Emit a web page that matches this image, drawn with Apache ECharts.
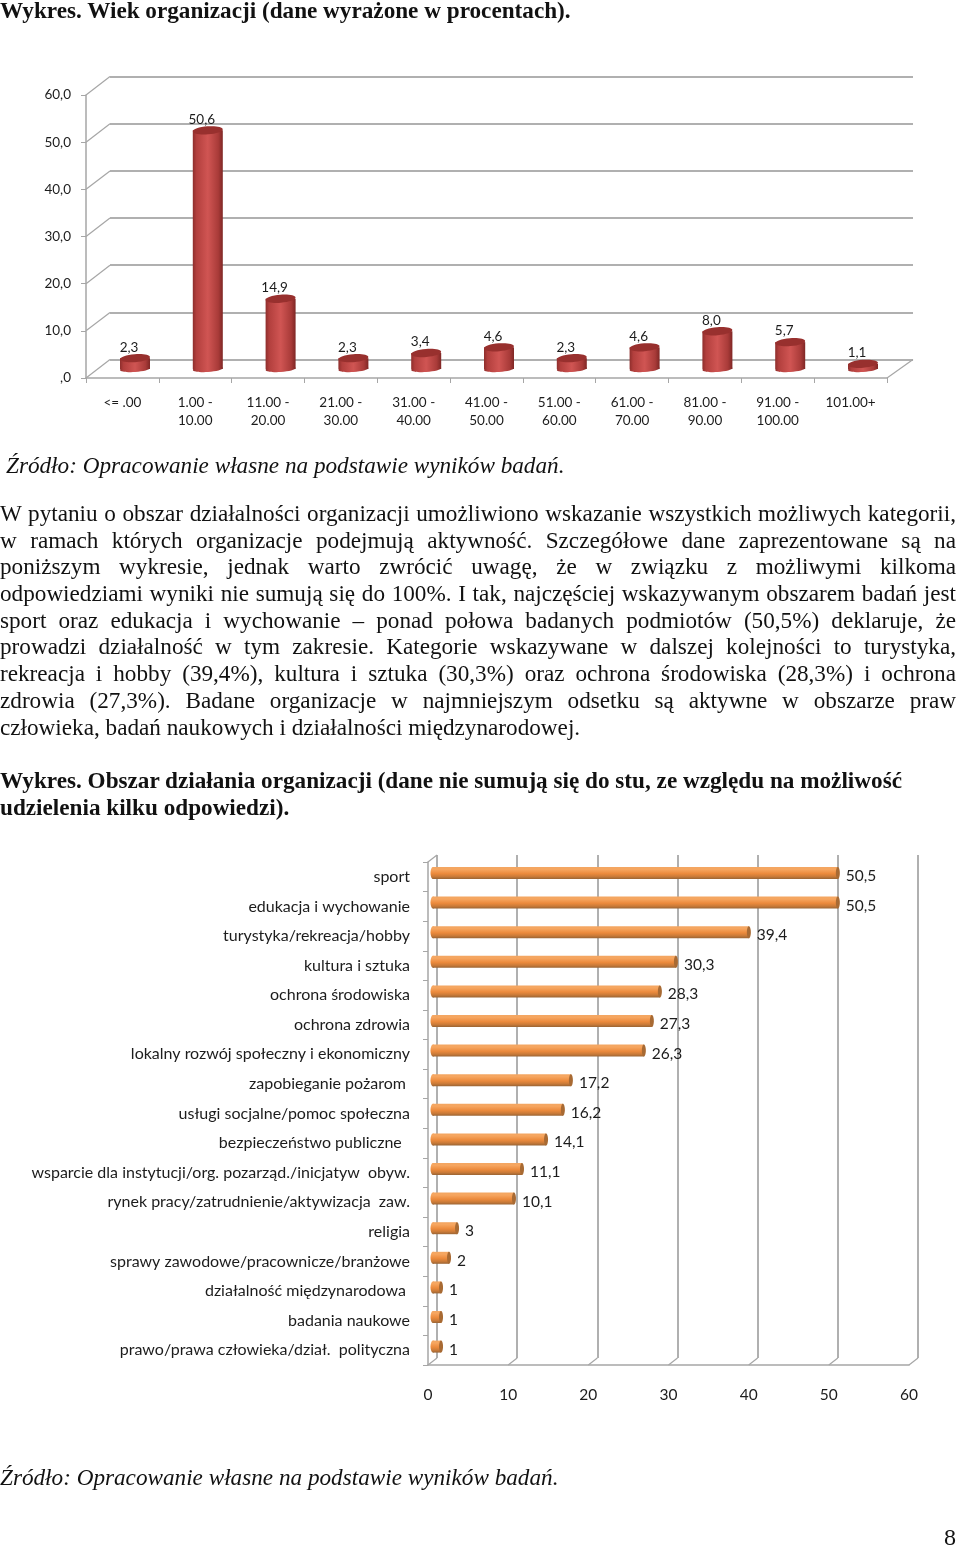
<!DOCTYPE html>
<html lang="pl">
<head>
<meta charset="utf-8">
<title>Wykres</title>
<script src="https://cdn.jsdelivr.net/npm/echarts@6/dist/echarts.min.js"></script>
<style>
html,body{margin:0;padding:0;background:#fff;}
#chart{position:absolute;left:0;top:0;width:960px;height:1547px;}
.t{position:absolute;white-space:nowrap;font-family:"Liberation Serif",serif;font-size:23.2px;line-height:26px;height:26px;color:#111;}
.j{left:0;width:956px;white-space:normal;text-align:justify;text-align-last:justify;}
.b{font-weight:bold;}
.i{font-style:italic;}
</style>
</head>
<body>
<div id="chart"></div>
<div id="text"></div>
<script>
const ageCategories = ['<= .00','1.00 -\n10.00','11.00 -\n20.00','21.00 -\n30.00','31.00 -\n40.00','41.00 -\n50.00','51.00 -\n60.00','61.00 -\n70.00','81.00 -\n90.00','91.00 -\n100.00','101.00+'];
const ageValues = [2.3,50.6,14.9,2.3,3.4,4.6,2.3,4.6,8.0,5.7,1.1];
const ageTicks = [0,10,20,30,40,50,60];

const areaCategories = ['sport','edukacja i wychowanie','turystyka/rekreacja/hobby','kultura i sztuka','ochrona środowiska','ochrona zdrowia','lokalny rozwój społeczny i ekonomiczny','zapobieganie pożarom ','usługi socjalne/pomoc społeczna','bezpieczeństwo publiczne  ','wsparcie dla instytucji/org. pozarząd./inicjatyw  obyw.','rynek pracy/zatrudnienie/aktywizacja  zaw.','religia','sprawy zawodowe/pracownicze/branżowe','działalność międzynarodowa ','badania naukowe','prawo/prawa człowieka/dział.  polityczna'];
const areaValues = [50.5,50.5,39.4,30.3,28.3,27.3,26.3,17.2,16.2,14.1,11.1,10.1,3,2,1,1,1];
const areaTicks = [0,10,20,30,40,50,60];

const proseLines = [
 ['Wykres. Wiek organizacji (dane wyrażone w procentach).',0,-3,'b'],
 ['Źródło: Opracowanie własne na podstawie wyników badań.',6,452,'i'],
 ['W pytaniu o obszar działalności organizacji umożliwiono wskazanie wszystkich możliwych kategorii,',0,500,'j'],
 ['w ramach których organizacje podejmują aktywność. Szczegółowe dane zaprezentowane są na',0,527,'j'],
 ['poniższym wykresie, jednak warto zwrócić uwagę, że w związku z możliwymi kilkoma',0,553,'j'],
 ['odpowiedziami wyniki nie sumują się do 100%. I tak, najczęściej wskazywanym obszarem badań jest',0,580,'j'],
 ['sport oraz edukacja i wychowanie – ponad połowa badanych podmiotów (50,5%) deklaruje, że',0,607,'j'],
 ['prowadzi działalność w tym zakresie. Kategorie wskazywane w dalszej kolejności to turystyka,',0,633,'j'],
 ['rekreacja i hobby (39,4%), kultura i sztuka (30,3%) oraz ochrona środowiska (28,3%) i ochrona',0,660,'j'],
 ['zdrowia (27,3%). Badane organizacje w najmniejszym odsetku są aktywne w obszarze praw',0,687,'j'],
 ['człowieka, badań naukowych i działalności międzynarodowej.',0,714,''],
 ['Wykres. Obszar działania organizacji (dane nie sumują się do stu, ze względu na możliwość',0,767,'b'],
 ['udzielenia kilku odpowiedzi).',0,794,'b'],
 ['Źródło: Opracowanie własne na podstawie wyników badań.',0,1464,'i']
];
const pageNumber = '8';

const textHost = document.getElementById('text');
proseLines.forEach(([s,x,y,c])=>{
  const d=document.createElement('div');
  d.className='t '+c; d.textContent=s; d.style.top=y+'px';
  if(c!=='j') d.style.left=x+'px';
  textHost.appendChild(d);
});
const pn=document.createElement('div');
pn.className='t'; pn.textContent=pageNumber;
pn.style.cssText='left:944px;top:1524px;font-size:24px;';
textHost.appendChild(pn);

const LABEL='#1c1c1c', GRID='#b0b0b0', AXIS='#a6a6a6', FONT='Lato';
const fmtAge = v => v===0 ? ',0' : v.toFixed(1).replace('.',',');
const fmtArea = v => String(v).replace('.',',');

function vgrad(stops){return {type:'linear',x:0,y:0,x2:1,y2:0,colorStops:stops};}
function hgrad(stops){return {type:'linear',x:0,y:0,x2:0,y2:1,colorStops:stops};}

const redBody = vgrad([{offset:0,color:'#8e2e2c'},{offset:.12,color:'#b23f3d'},{offset:.5,color:'#d05553'},{offset:.85,color:'#a93b39'},{offset:1,color:'#7f2725'}]);
function renderCylinder(params,api){
  const v=api.value(1);
  const top=api.coord([api.value(0),v]);
  const base=api.coord([api.value(0),0]);
  const w=15, rt=4, rb=3;
  return {type:'group',children:[
    {type:'ellipse',shape:{cx:top[0],cy:base[1],rx:w,ry:rb},rotation:0.06,originX:top[0],originY:base[1],style:{fill:redBody}},
    {type:'rect',shape:{x:top[0]-w,y:top[1],width:2*w,height:base[1]-top[1]},style:{fill:redBody}},
    {type:'ellipse',shape:{cx:top[0],cy:top[1],rx:w,ry:rt},rotation:0.08,originX:top[0],originY:top[1],style:{fill:'#98302e'}},
    {type:'text',x:top[0]-6,y:top[1]-11,style:{text:fmtAge(v),fill:LABEL,font:'13.5px '+FONT,align:'center',verticalAlign:'middle'}}
  ]};
}

const orangeBody = hgrad([{offset:0,color:'#f3a662'},{offset:.2,color:'#f6a660'},{offset:.55,color:'#ec8a3c'},{offset:.8,color:'#c97a38'},{offset:1,color:'#9a6434'}]);
function renderRod(params,api){
  const v=api.value(0);
  const end=api.coord([v,api.value(1)]);
  const base=api.coord([0,api.value(1)]);
  const h=6;
  return {type:'group',children:[
    {type:'rect',shape:{x:base[0],y:end[1]-h,width:end[0]-base[0],height:2*h},style:{fill:orangeBody}},
    {type:'ellipse',shape:{cx:base[0],cy:end[1],rx:2.5,ry:h},style:{fill:orangeBody}},
    {type:'ellipse',shape:{cx:end[0],cy:end[1],rx:2,ry:h},style:{fill:'#a86a33'}},
    {type:'text',x:end[0]+8,y:end[1]+3,style:{text:fmtArea(v),fill:LABEL,font:'15.5px '+FONT,align:'left',verticalAlign:'middle'}}
  ]};
}

// wall-to-floor depth connectors, taken from the axis scales
function depthY(params,api){
  const p=api.coord([0,api.value(0)]);
  const x=p[0]-api.size([1,0])[0]/2;
  return {type:'line',shape:{x1:x,y1:p[1],x2:x+24,y2:p[1]-18.4},style:{stroke:AXIS,lineWidth:1.2}};
}
function depthRight(params,api){
  const p=api.coord([10,0]);
  const x=p[0]+api.size([1,0])[0]/2;
  return {type:'line',shape:{x1:x,y1:p[1],x2:x+26,y2:p[1]-18.4},style:{stroke:AXIS,lineWidth:1.2}};
}
function depthX(params,api){
  const p=api.coord([api.value(0),16]);
  const y=p[1]+api.size([0,1])[1]/2;
  return {type:'line',shape:{x1:p[0],y1:y,x2:p[0]+9,y2:y-7},style:{stroke:AXIS,lineWidth:1.2}};
}
function depthTop(params,api){
  const p=api.coord([0,0]);
  const y=p[1]-api.size([0,1])[1]/2;
  return {type:'line',shape:{x1:p[0],y1:y,x2:p[0]+9,y2:y-7},style:{stroke:AXIS,lineWidth:1.2}};
}

const hidden={show:false};
const chart=echarts.init(document.getElementById('chart'),null,{renderer:'canvas'});
chart.setOption({
  animation:false,
  backgroundColor:'#fff',
  textStyle:{fontFamily:FONT},
  grid:[
    {left:110,top:76.7,width:803,height:282.8},
    {left:86,top:95,width:801,height:283},
    {left:98.6,top:86,width:800.8,height:283},
    {left:437,top:855,width:481,height:503},
    {left:428,top:862,width:481,height:503},
    {left:433,top:858.2,width:481,height:503.2}
  ],
  xAxis:[
    {gridIndex:0,type:'category',data:ageCategories,show:false},
    {gridIndex:1,type:'category',data:ageCategories,
      axisLine:{lineStyle:{color:AXIS,width:1.5}},
      axisTick:{show:true,length:5,inside:false,lineStyle:{color:AXIS,width:1}},
      axisLabel:{interval:0,color:LABEL,fontSize:13.5,fontFamily:FONT,margin:16,lineHeight:18}},
    {gridIndex:2,type:'category',data:ageCategories,show:false},
    {gridIndex:3,type:'value',min:0,max:60,interval:10,axisLine:hidden,axisTick:hidden,axisLabel:hidden,
      splitLine:{show:true,lineStyle:{color:GRID,width:2}}},
    {gridIndex:4,type:'value',min:0,max:60,interval:10,
      axisLine:{show:true,lineStyle:{color:AXIS,width:1.5}},axisTick:hidden,splitLine:hidden,
      axisLabel:{color:LABEL,fontSize:15.5,fontFamily:FONT,margin:22,formatter:v=>String(v)}},
    {gridIndex:5,type:'value',min:0,max:60,interval:10,show:false,splitLine:hidden}
  ],
  yAxis:[
    {gridIndex:0,type:'value',min:0,max:60,interval:10,axisLine:hidden,axisTick:hidden,axisLabel:hidden,
      splitLine:{show:true,lineStyle:{color:GRID,width:2}}},
    {gridIndex:1,type:'value',min:0,max:60,interval:10,splitLine:hidden,
      axisLine:{show:true,lineStyle:{color:AXIS,width:1.5}},
      axisTick:{show:true,length:5,lineStyle:{color:AXIS}},
      axisLabel:{color:LABEL,fontSize:13.5,fontFamily:FONT,margin:15,padding:[4,0,0,0],formatter:fmtAge}},
    {gridIndex:2,type:'value',min:0,max:60,interval:10,show:false,splitLine:hidden},
    {gridIndex:3,type:'category',inverse:true,data:areaCategories,show:false},
    {gridIndex:4,type:'category',inverse:true,data:areaCategories,
      axisLine:{show:true,lineStyle:{color:AXIS,width:1.5}},
      axisTick:{show:true,length:5,lineStyle:{color:AXIS}},
      axisLabel:{interval:0,color:LABEL,fontSize:16,fontFamily:FONT,margin:18,padding:[5,0,0,0]}},
    {gridIndex:5,type:'category',inverse:true,data:areaCategories,show:false}
  ],
  series:[
    {type:'custom',coordinateSystem:'cartesian2d',xAxisIndex:1,yAxisIndex:1,z:1,silent:true,data:ageTicks.map(v=>[v]),encode:{y:0},renderItem:depthY},
    {type:'custom',coordinateSystem:'cartesian2d',xAxisIndex:1,yAxisIndex:1,z:1,silent:true,data:[[0]],encode:{y:0},renderItem:depthRight},
    {type:'custom',coordinateSystem:'cartesian2d',xAxisIndex:2,yAxisIndex:2,z:5,data:ageCategories.map((c,i)=>[i,ageValues[i]]),renderItem:renderCylinder},
    {type:'custom',coordinateSystem:'cartesian2d',xAxisIndex:4,yAxisIndex:4,z:1,silent:true,data:areaTicks.map(v=>[v]),encode:{x:0},renderItem:depthX},
    {type:'custom',coordinateSystem:'cartesian2d',xAxisIndex:4,yAxisIndex:4,z:1,silent:true,data:[[0]],encode:{x:0},renderItem:depthTop},
    {type:'custom',coordinateSystem:'cartesian2d',xAxisIndex:5,yAxisIndex:5,z:5,data:areaCategories.map((c,i)=>[areaValues[i],i]),renderItem:renderRod}
  ]
});
</script>
</body>
</html>
